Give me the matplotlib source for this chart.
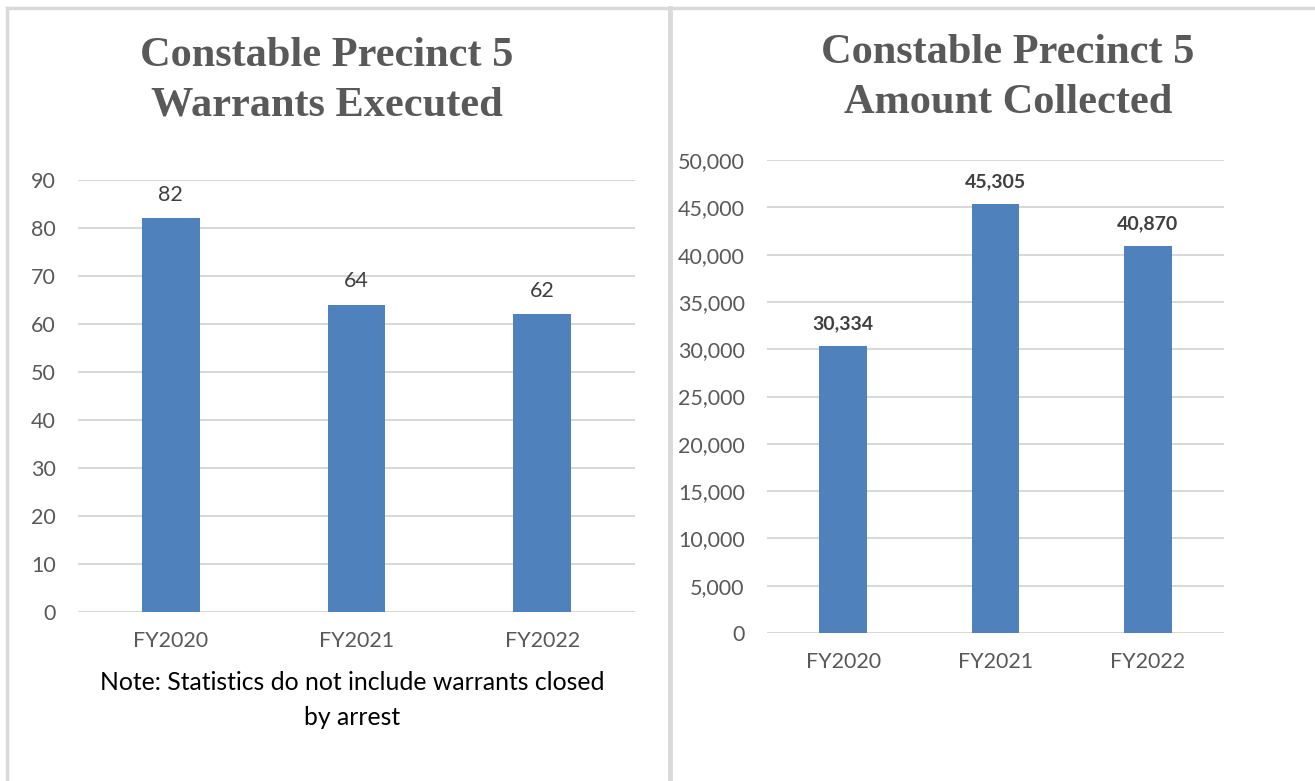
import matplotlib.pyplot as plt
from matplotlib.lines import Line2D
from matplotlib.ticker import FuncFormatter

years = ['FY2020', 'FY2021', 'FY2022']
warrants = [82, 64, 62]
collected = [30334, 45305, 40870]

bar_color = '#4F81BD'
grid_color = '#D9D9D9'
tick_color = '#595959'
label_color = '#404040'

plt.rcParams['font.family'] = ['Lato', 'DejaVu Sans']

W, H = 1315, 781
fig = plt.figure(figsize=(W / 100, H / 100), dpi=100)


def px_axes(x0, x1, ytop, ybot):
    return fig.add_axes([x0 / W, (H - ybot) / H, (x1 - x0) / W, (ybot - ytop) / H])


def style(ax):
    for s in ax.spines.values():
        s.set_visible(False)
    ax.yaxis.grid(True, color=grid_color, linewidth=1.5)
    ax.set_axisbelow(True)
    ax.tick_params(length=0, labelsize=15.5, colors=tick_color)
    ax.tick_params(axis='y', pad=16)
    ax.tick_params(axis='x', pad=14)
    ax.set_xlim(-0.5, 2.5)


# left chart: warrants executed
ax1 = px_axes(78, 635, 180, 612)
x = range(len(years))
bars = ax1.bar(x, warrants, width=0.31, color=bar_color, zorder=2)
ax1.set_ylim(0, 90)
ax1.set_yticks(range(0, 91, 10))
ax1.set_xticks(list(x))
ax1.set_xticklabels(years)
style(ax1)
for b, v in zip(bars, warrants):
    ax1.annotate(str(v), (b.get_x() + b.get_width() / 2, v), xytext=(0, 10),
                 textcoords='offset points', ha='center', va='bottom',
                 fontsize=15.5, color=label_color)

# right chart: amount collected
ax2 = px_axes(767, 1224, 160, 633)
bars = ax2.bar(x, collected, width=0.315, color=bar_color, zorder=2)
ax2.set_ylim(0, 50000)
ax2.set_yticks(range(0, 50001, 5000))
ax2.yaxis.set_major_formatter(FuncFormatter(lambda v, p: f'{int(v):,}'))
ax2.set_xticks(list(x))
ax2.set_xticklabels(years)
style(ax2)
for b, v in zip(bars, collected):
    ax2.annotate(f'{v:,}', (b.get_x() + b.get_width() / 2, v), xytext=(0, 10),
                 textcoords='offset points', ha='center', va='bottom',
                 fontsize=14, fontweight='bold', color=label_color)

# titles
tfont = dict(family='Liberation Serif', fontweight='bold', fontsize=30.5,
             color=tick_color, ha='center', va='center', linespacing=1.38)
fig.text(327 / W, 1 - 81 / H, 'Constable Precinct 5\nWarrants Executed', **tfont)
fig.text(1008 / W, 1 - 78 / H, 'Constable Precinct 5\nAmount Collected', **tfont)

# note under the left chart
fig.text(352 / W, 1 - 700 / H, 'Note: Statistics do not include warrants closed\nby arrest',
         ha='center', va='center', fontsize=17.8, color='black', linespacing=1.6)

# table borders
border = dict(color=grid_color, linewidth=2.5, transform=fig.transFigure)
fig.add_artist(Line2D([7 / W, 1], [1 - 8 / H, 1 - 8 / H], **border))
fig.add_artist(Line2D([7 / W, 7 / W], [0, 1 - 8 / H], **border))
fig.add_artist(Line2D([670 / W, 670 / W], [0, 1 - 8 / H], color=grid_color,
                      linewidth=3.5, transform=fig.transFigure))

fig.savefig('out.png', dpi=100)
